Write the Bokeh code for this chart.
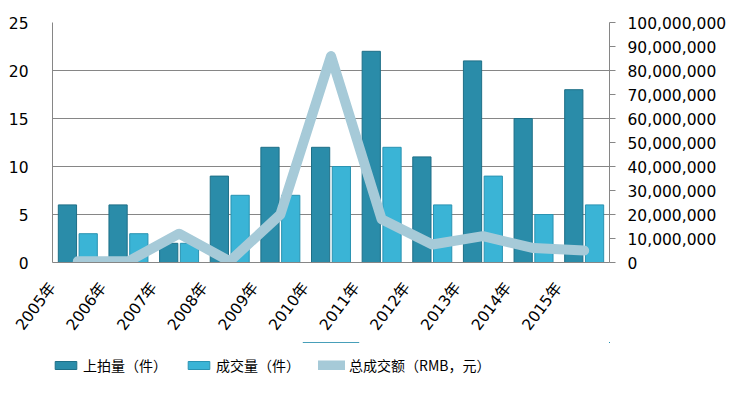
import math
from bokeh.plotting import figure
from bokeh.layouts import column
from bokeh.models import (ColumnDataSource, Range1d, LinearAxis,
                          FixedTicker, NumeralTickFormatter, Legend, LegendItem)
from bokeh.transform import dodge
from bokeh.embed import file_html
from bokeh.resources import INLINE

years = ["2005年", "2006年", "2007年", "2008年", "2009年", "2010年",
         "2011年", "2012年", "2013年", "2014年", "2015年"]
listed = [6, 6, 2, 9, 12, 12, 22, 11, 21, 15, 18]
sold = [3, 3, 2, 7, 7, 10, 12, 6, 9, 5, 6]
turnover = [500000, 500000, 12000000, 500000, 20000000, 86000000,
            18000000, 7500000, 11000000, 6000000, 5000000]
left_ticks = [0, 5, 10, 15, 20, 25]
right_ticks = [i * 10000000 for i in range(11)]
series_names = ["上拍量（件）", "成交量（件）", "总成交额（RMB，元）"]

# category slot centres (slot i spans [i, i+1])
pos = [i + 0.5 for i in range(len(years))]
src = ColumnDataSource(dict(pos=pos, years=years, listed=listed, sold=sold, turnover=turnover))

FONT = "'DejaVu Sans', 'Noto Sans CJK SC', sans-serif"
GRID = "#868686"
DARK = dict(fill_color="#2A8CA9", line_color="#1E6F87", line_width=1)
LIGHT = dict(fill_color="#3AB4D6", line_color="#2A93B2", line_width=1)
LINE = dict(line_color="#A6CAD8", line_width=10, line_cap="round", line_join="round")

p = figure(x_range=Range1d(0, len(years)),
           y_range=Range1d(0, 25),
           frame_width=557, frame_height=240,
           min_border_left=52, min_border_right=133,
           min_border_top=22, min_border_bottom=80,
           output_backend="svg", toolbar_location=None)
p.outline_line_color = None
p.background_fill_color = "white"
p.border_fill_color = "white"

p.extra_y_ranges = {"money": Range1d(0, 100000000)}

p.vbar(x=dodge("pos", -0.205), top="listed", width=0.36, source=src, **DARK)
p.vbar(x=dodge("pos", 0.205), top="sold", width=0.36, source=src, **LIGHT)
p.line(x="pos", y="turnover", source=src, y_range_name="money", **LINE)

# axes
p.xgrid.grid_line_color = None
p.ygrid.grid_line_color = GRID
p.ygrid.ticker = FixedTicker(ticks=left_ticks)

ya = p.yaxis[0]
ya.ticker = FixedTicker(ticks=left_ticks)
ya.axis_line_color = GRID
ya.major_tick_line_color = None
ya.minor_tick_line_color = None
ya.major_label_standoff = 18
ya.major_label_text_font = FONT
ya.major_label_text_font_size = "15.5px"
ya.major_label_text_color = "black"

# category labels, anchored left of each category centre like the reference
label_ticks = [c - 0.5 for c in pos]
xa = p.xaxis[0]
xa.ticker = FixedTicker(ticks=label_ticks)
xa.major_label_overrides = {t: y for t, y in zip(label_ticks, years)}
xa.axis_line_color = GRID
xa.major_tick_line_color = None
xa.minor_tick_line_color = None
xa.major_label_orientation = math.radians(53)
xa.major_label_text_font = FONT
xa.major_label_text_font_size = "15.5px"
xa.major_label_text_color = "black"
xa.major_label_standoff = 16

ra = LinearAxis(y_range_name="money", ticker=FixedTicker(ticks=right_ticks),
                formatter=NumeralTickFormatter(format="0,0"))
ra.axis_line_color = GRID
ra.major_tick_line_color = GRID
ra.major_tick_out = 6
ra.major_tick_in = 0
ra.minor_tick_line_color = None
ra.major_label_standoff = 12
ra.major_label_text_font = FONT
ra.major_label_text_font_size = "15.5px"
ra.major_label_text_color = "black"
p.add_layout(ra, "right")

# legend strip below the chart; its renderers share the data but lie outside
# the strip's visible range, so only the legend entries show
p2 = figure(x_range=Range1d(0, 1), y_range=Range1d(-2, -1),
            width=742, height=56, min_border=0,
            x_axis_location=None, y_axis_location=None,
            output_backend="svg", toolbar_location=None)
p2.outline_line_color = None
p2.grid.visible = False
l1 = p2.vbar(x="pos", top="listed", width=0.1, source=src, **DARK)
l2 = p2.vbar(x="pos", top="sold", width=0.1, source=src, **LIGHT)
l3 = p2.line(x="pos", y="turnover", source=src, **LINE)

legend = Legend(items=[LegendItem(label=n, renderers=[r])
                       for n, r in zip(series_names, [l1, l2, l3])],
                orientation="horizontal", location=(0, 23))
legend.label_text_font = "'Noto Sans CJK SC', sans-serif"
legend.label_text_font_size = "14px"
legend.label_text_color = "black"
legend.glyph_width = 27
legend.glyph_height = 10
legend.label_standoff = 4
legend.spacing = 18
legend.padding = 0
legend.margin = 0
legend.border_line_color = None
legend.background_fill_alpha = 0
p2.add_layout(legend, "center")

layout = column(p, p2, spacing=0)
open("out.html", "w").write(file_html(layout, INLINE))
